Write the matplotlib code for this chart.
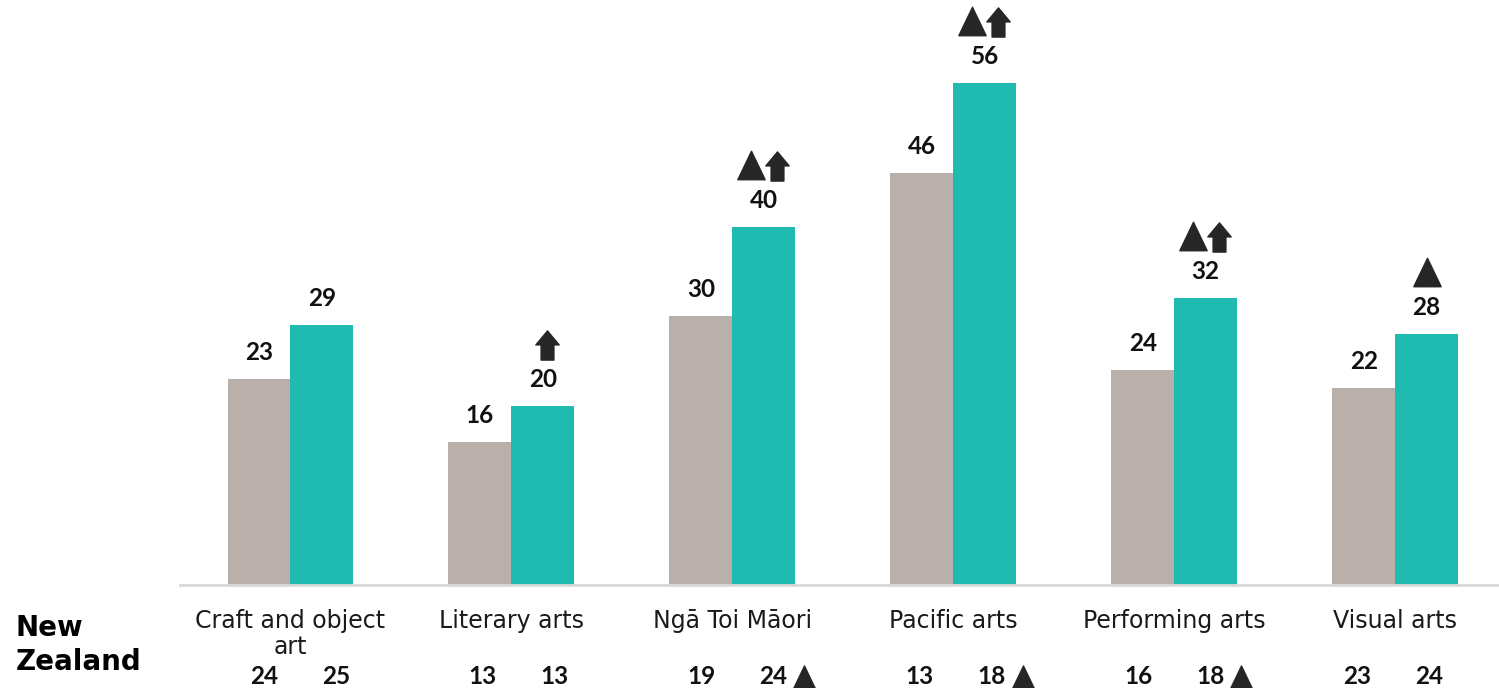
import numpy as np
import matplotlib
matplotlib.use("Agg")
import matplotlib.pyplot as plt
import matplotlib.transforms as mtransforms
from matplotlib.path import Path

plt.rcParams['font.family'] = ['Lato', 'DejaVu Sans']

categories = ["Craft and object\nart", "Literary arts", "Ngā Toi Māori",
              "Pacific arts", "Performing arts", "Visual arts"]
grey_vals = [23, 16, 30, 46, 24, 22]
teal_vals = [29, 20, 40, 56, 32, 28]
# significance flags above the teal bars: triangle / block arrow
teal_tri = [False, False, True, True, True, True]
teal_arrow = [False, True, True, True, True, False]
nz_grey = [24, 13, 19, 13, 16, 23]
nz_teal = [25, 13, 24, 18, 18, 24]
nz_tri = [False, False, True, True, True, False]

grey_col = "#B9B0AB"
teal_col = "#20BBB0"
mark_col = "#262626"

TRI = Path([(0, 0.5), (0.48, -0.5), (-0.48, -0.5), (0, 0.5)],
           [Path.MOVETO, Path.LINETO, Path.LINETO, Path.CLOSEPOLY])
ARROW = Path([(0, 0.5), (0.4, 0.02), (0.22, 0.02), (0.22, -0.5), (-0.22, -0.5),
              (-0.22, 0.02), (-0.4, 0.02), (0, 0.5)],
             [Path.MOVETO] + [Path.LINETO] * 6 + [Path.CLOSEPOLY])

W, H = 1499, 688
fig = plt.figure(figsize=(W / 100, H / 100), dpi=100)
ax = fig.add_axes([180 / W, 103 / H, 1 - 180 / W, 585 / H])

x = np.arange(len(categories))
w = 0.285
ax.bar(x - w / 2, grey_vals, w, color=grey_col)
ax.bar(x + w / 2, teal_vals, w, color=teal_col)

ax.set_xlim(-0.5, 5.47)
ax.set_ylim(0, 65.3)

for s in ["top", "right", "left"]:
    ax.spines[s].set_visible(False)
ax.spines["bottom"].set_color("#D9D9D9")
ax.spines["bottom"].set_linewidth(2)
ax.set_yticks([])
ax.set_xticks(x)
ax.set_xticklabels(categories, fontsize=17, linespacing=1.15, color="#1a1a1a",
                   family="DejaVu Sans")
ax.tick_params(axis="x", length=0, pad=17)


def px_offset(dx, dy):
    # shift by pixels (dpi 100 -> inches)
    return mtransforms.ScaledTranslation(dx / 100, dy / 100, fig.dpi_scale_trans)


# value labels and flags above bars
for i in range(len(categories)):
    ax.annotate(str(grey_vals[i]), (x[i] - w / 2, grey_vals[i]), xytext=(0, 19),
                textcoords="offset points", ha="center", va="center",
                fontsize=17.5, fontweight="bold", color="#111111")
    ax.annotate(str(teal_vals[i]), (x[i] + w / 2, teal_vals[i]), xytext=(0, 19),
                textcoords="offset points", ha="center", va="center",
                fontsize=17.5, fontweight="bold", color="#111111")
    both = teal_tri[i] and teal_arrow[i]
    if teal_tri[i]:
        dx = -13 if both else 0
        ax.plot([x[i] + w / 2], [teal_vals[i]], marker=TRI, markersize=20.5,
                color=mark_col, linestyle="none",
                transform=ax.transData + px_offset(dx, 62))
    if teal_arrow[i]:
        dx = 13 if both else 4
        ax.plot([x[i] + w / 2], [teal_vals[i]], marker=ARROW, markersize=21,
                color=mark_col, linestyle="none",
                transform=ax.transData + px_offset(dx, 61))

# New Zealand row (laid out as a table in pixel columns)
trans = mtransforms.blended_transform_factory(ax.transData, ax.transAxes)
ny = -(677 - 585) / 585
px_per_unit = (W - 180) / (5.47 + 0.5)
for i in range(len(categories)):
    gx = (264 + i * 218.6 - 180) / px_per_unit - 0.5
    tx = gx + 72 / px_per_unit
    ax.text(gx, ny, str(nz_grey[i]), transform=trans, ha="center", va="center",
            fontsize=17.5, fontweight="bold", color="#111111")
    ax.text(tx, ny, str(nz_teal[i]), transform=trans, ha="center", va="center",
            fontsize=17.5, fontweight="bold", color="#111111")
    if nz_tri[i]:
        ax.plot([tx], [ny], marker=TRI, markersize=18, color=mark_col,
                linestyle="none", clip_on=False,
                transform=trans + px_offset(31, -1))

fig.text(16 / W, (H - 645) / H, "New\nZealand", ha="left", va="center",
         fontsize=20, fontweight="bold", linespacing=1.3, color="#000000",
         family="DejaVu Sans")

fig.savefig("out.png", dpi=100)
